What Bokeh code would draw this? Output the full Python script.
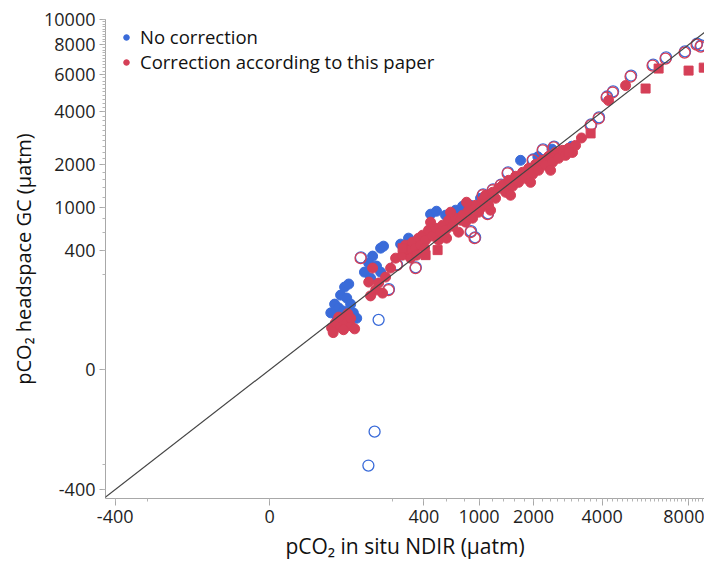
import numpy as np
from bokeh.plotting import figure
from bokeh.models import (ColumnDataSource, Range1d, FixedTicker, CustomJSTickFormatter,
                          CustomJSTransform, Legend, LegendItem, Slope)
from bokeh.transform import transform
from bokeh.embed import file_html
from bokeh.resources import INLINE

# ---- tick values (axes use a cube-root scale) ----
x_ticks = [-400, 0, 400, 1000, 2000, 4000, 8000]
y_ticks = [-400, 0, 400, 1000, 2000, 4000, 6000, 8000, 10000]
minor_vals = list(range(-400, 10001, 200))

# ---- data (µatm) ----
blue_filled_x = [46, 54, 39, 50, 30, 36, 25, 33, 44, 58, 64, 72,
                 149, 161, 119, 106, 133, 93, 112, 149,
                 245, 292, 454, 506, 593, 700, 782, 883, 1021, 1174, 1720, 2680, 2100, 2450, 3000]
blue_filled_y = [132, 147, 97, 86, 66, 55, 43, 36, 47, 66, 43, 32,
                 419, 440, 342, 283, 260, 217, 180, 217,
                 462, 531, 877, 928, 860, 946, 1019, 1037, 1175, 1238, 2139, 2391, 2250, 2500, 2600]

blue_open_x = [141, 126, 105, 83, 225, 185, 340, 890, 945, 1135, 1060, 1215, 1350, 1475, 1990,
               2225, 2505, 3620, 3890, 4180, 4410, 5140, 6140, 6780, 7800, 8500, 8740]
blue_open_y = [29, -55, -204, 330, 272, 122, 250, 620, 540, 890, 1255, 1365, 1480, 1790, 2165,
               2490, 2590, 3440, 3740, 4750, 5020, 5930, 6620, 7090, 7510, 8080, 7940]

red_filled_x = [26, 31, 39, 48, 58, 67, 36, 52, 28, 58, 44,
                119, 106, 130, 157, 112, 141, 170, 193, 218,
                256, 274, 292, 318, 339, 360, 305, 375, 346,
                390, 413, 437, 471, 498, 525, 405, 454, 544,
                563, 593, 624, 667, 700, 734, 603, 758, 645,
                782, 819, 857, 910, 951, 993, 831, 1022,
                1051, 1096, 1142, 1206, 1255, 1306, 1174,
                1376, 1430, 1485, 1560, 1619, 1679, 1522,
                1761, 1825, 1890, 1979, 2047, 2117, 1934,
                2213, 2286, 2362, 2465, 2544, 2625, 2413,
                2736, 2821, 2907, 3025, 3116,
                3300, 4237, 4907]
red_filled_y = [17, 24, 18, 26, 20, 16, 34, 41, 12, 32, 15,
                245, 157, 118, 105, 94, 152, 186, 245, 324,
                351, 451, 399, 484, 419, 531, 324, 451, 351,
                568, 507, 634, 556, 661, 507, 419, 749, 607,
                704, 634, 779, 689, 811, 607, 531, 779, 911,
                860, 749, 946, 811, 1037, 911, 1095, 982,
                1135, 1238, 1037, 1302, 1175, 1393, 946,
                1462, 1302, 1584, 1438, 1686, 1533, 1238,
                1793, 1634, 1903, 1738, 2018, 1848, 1533,
                2139, 1990, 2263, 2079, 2391, 2201, 1848,
                2459, 2295, 2527, 2391, 2630,
                2900, 4544, 5344]

red_open_x = [82, 223, 183, 338, 883, 937, 1127, 1051, 1206, 1341, 1466, 1978, 2213, 2492,
              3598, 3872, 4163, 4389, 5115, 6110, 6752, 7773, 8467, 8707]
red_open_y = [324, 267, 118, 245, 607, 531, 877, 1238, 1347, 1462, 1766, 2139, 2459, 2561,
              3396, 3695, 4698, 4962, 5868, 6552, 7013, 7425, 8000, 7855]

red_square_x = [256, 413, 516, 2907, 3598, 5782, 6403, 8000, 8900]
red_square_y = [419, 351, 399, 2391, 3074, 5178, 6361, 6233, 6420]

BLUE = "#3a6bd9"
RED = "#d53f57"
FONT = "Open Sans"

cbrt = CustomJSTransform(
    func="return Math.cbrt(x);",
    v_func="const out = new Float64Array(xs.length); for (let i = 0; i < xs.length; i++) { out[i] = Math.cbrt(xs[i]); } return out;",
)

p = figure(width=704, height=562, output_backend="svg", toolbar_location=None,
           x_range=Range1d(-7.83, 20.76), y_range=Range1d(-7.914, 21.546),
           min_border_left=105, min_border_right=0, min_border_top=19, min_border_bottom=63)
p.grid.visible = False
p.outline_line_color = None
p.background_fill_color = "white"

# y = x reference line (a straight line in cube-root space)
p.add_layout(Slope(gradient=1, y_intercept=0, line_color="#444444", line_width=1.2))

def src(xs, ys):
    return ColumnDataSource(dict(x=xs, y=ys))

X = transform("x", cbrt)
Y = transform("y", cbrt)

r_bf = p.scatter(x=X, y=Y, source=src(blue_filled_x, blue_filled_y), marker="circle",
                 size=10, fill_color=BLUE, line_color=BLUE)
p.scatter(x=X, y=Y, source=src(blue_open_x, blue_open_y), marker="circle",
          size=11, fill_alpha=0, line_color=BLUE, line_width=1.3)
r_rf = p.scatter(x=X, y=Y, source=src(red_filled_x, red_filled_y), marker="circle",
                 size=10, fill_color=RED, line_color=RED)
p.scatter(x=X, y=Y, source=src(red_open_x, red_open_y), marker="circle",
          size=11, fill_alpha=0, line_color=RED, line_width=1.3)
p.scatter(x=X, y=Y, source=src(red_square_x, red_square_y), marker="square",
          size=9, fill_color=RED, line_color=RED)

fmt = CustomJSTickFormatter(code="return Math.round(tick * tick * tick).toString();")
minor = [float(v) for v in np.cbrt(minor_vals)]
p.xaxis.ticker = FixedTicker(ticks=[float(v) for v in np.cbrt(x_ticks)], minor_ticks=minor)
p.yaxis.ticker = FixedTicker(ticks=[float(v) for v in np.cbrt(y_ticks)], minor_ticks=minor)
p.xaxis.formatter = fmt
p.yaxis.formatter = fmt

for ax in (p.xaxis, p.yaxis):
    ax.axis_line_color = "#a8a8a8"
    ax.major_tick_line_color = "#a8a8a8"
    ax.minor_tick_line_color = "#b5b5b5"
    ax.major_tick_in = 0
    ax.minor_tick_in = 0
    ax.minor_tick_out = 3
    ax.major_label_text_font = FONT
    ax.major_label_text_font_size = "18px"
    ax.major_label_text_color = "#1f1f1f"
    ax.axis_label_text_font = FONT
    ax.axis_label_text_font_style = "normal"
    ax.axis_label_text_color = "#111111"
p.xaxis.axis_label_text_font_size = "21px"
p.yaxis.axis_label_text_font_size = "20px"
p.xaxis.major_tick_out = 7
p.yaxis.major_tick_out = 6
p.xaxis.major_label_standoff = 4
p.yaxis.major_label_standoff = 4
p.xaxis.axis_label_standoff = 6
p.yaxis.axis_label_standoff = 4
p.xaxis.axis_label = "pCO₂ in situ NDIR (µatm)"
p.yaxis.axis_label = "pCO₂ headspace GC (µatm)"

legend = Legend(items=[LegendItem(label="No correction", renderers=[r_bf]),
                       LegendItem(label="Correction according to this paper", renderers=[r_rf])],
                location=(14, 424), margin=0, padding=0, spacing=0,
                glyph_width=14, glyph_height=24, label_height=24, label_standoff=7,
                border_line_color=None, background_fill_alpha=0,
                label_text_font=FONT, label_text_font_size="18.5px", label_text_color="#111111")
p.add_layout(legend, "center")

open("out.html", "w").write(file_html(p, INLINE))
